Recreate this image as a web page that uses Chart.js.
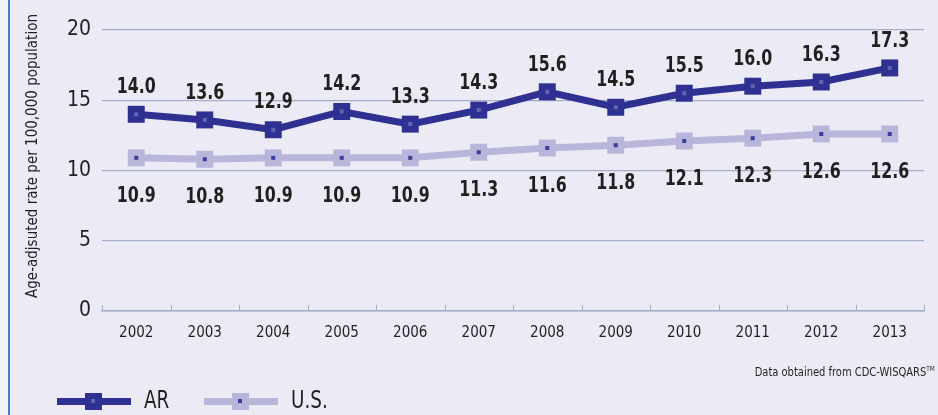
<!DOCTYPE html>
<html>
<head>
<meta charset="utf-8">
<script src="https://cdn.jsdelivr.net/npm/chart.js@4"></script>
<style>
  html, body { margin: 0; padding: 0; }
  body {
    width: 938px; height: 415px; overflow: hidden;
    background: #ECEBF5;
    font-family: 'DejaVu Sans Condensed', 'Liberation Sans Narrow', sans-serif;
    position: relative;
  }
  #edge { position: absolute; left: 0; top: 0; width: 8px; height: 415px; background: #F1F2FA; border-right: 2px solid #3F7CC4; }
  #wrap { position: absolute; left: 0; top: 0; width: 938px; height: 415px; }
  #note { position: absolute; right: 3px; top: 365px; font-size: 12px; color: #231F20; transform: scaleX(0.92); transform-origin: right center; white-space: nowrap; }
  #note sup { font-size: 7px; }
  .leg { position: absolute; top: 389px; height: 24px; }
  .leg .ln { position: absolute; left: 0; top: 9px; width: 74px; height: 7px; }
  .leg .mk { position: absolute; left: 28px; top: 4px; width: 17px; height: 17px; }
  .leg .dot { position: absolute; left: 6px; top: 6px; width: 4px; height: 4px; }
  .leg .tx { position: absolute; left: 87px; top: -3px; font-size: 24px; color: #231F20; white-space: nowrap; transform: scaleX(0.85); transform-origin: left center; }
</style>
</head>
<body>
<div id="edge"></div>
<div id="wrap"><canvas id="chart"></canvas></div>
<div id="note">Data obtained from CDC-WISQARS<sup>TM</sup></div>
<div class="leg" style="left:57px">
  <div class="ln" style="background:#2E3192"></div>
  <div class="mk" style="background:#2E3192"><div class="dot" style="background:#6266B0"></div></div>
  <div class="tx">AR</div>
</div>
<div class="leg" style="left:204px">
  <div class="ln" style="background:#B9B6DB"></div>
  <div class="mk" style="background:#B9B6DB"><div class="dot" style="background:#3A3E9C"></div></div>
  <div class="tx">U.S.</div>
</div>
<script>
const years = ['2002', '2003', '2004', '2005', '2006', '2007', '2008', '2009', '2010', '2011', '2012', '2013'];
const arRates = [14.0, 13.6, 12.9, 14.2, 13.3, 14.3, 15.6, 14.5, 15.5, 16.0, 16.3, 17.3];
const usRates = [10.9, 10.8, 10.9, 10.9, 10.9, 11.3, 11.6, 11.8, 12.1, 12.3, 12.6, 12.6];
const yTicks = [0, 5, 10, 15, 20];
const yTitle = 'Age-adjsuted rate per 100,000 population';

const FONT = "'DejaVu Sans Condensed', 'Liberation Sans Narrow', sans-serif";
const AR_COLOR = '#2E3192';
const US_COLOR = '#B9B6DB';
const GRID = '#A3AECB';

// inner dots, value labels, y title and the upward tick marks
const decorate = {
    id: 'decorate',
    afterDatasetsDraw(chart) {
        const ctx = chart.ctx;
        const dots = ['#6266B0', '#3A3E9C'];
        ctx.save();
        ctx.textAlign = 'center';
        ctx.textBaseline = 'middle';
        chart.data.datasets.forEach((ds, i) => {
            const meta = chart.getDatasetMeta(i);
            meta.data.forEach((pt, j) => {
                ctx.fillStyle = dots[i];
                ctx.fillRect(pt.x - 2, pt.y - 2, 4, 4);
                const off = i === 0 ? -27 : 38;
                ctx.save();
                ctx.translate(pt.x, pt.y + off);
                ctx.scale(0.8, 1);
                ctx.font = 'bold 22px ' + FONT;
                ctx.fillStyle = '#231F20';
                ctx.fillText(ds.data[j].toFixed(1), 0, 0);
                ctx.restore();
            });
        });

        // y axis title
        ctx.save();
        ctx.translate(33, 156);
        ctx.rotate(-Math.PI / 2);
        ctx.font = '15px ' + FONT;
        ctx.fillStyle = '#231F20';
        ctx.fillText(yTitle, 0, 0);
        ctx.restore();

        // tick marks pointing up from the x axis
        const xs = chart.scales.x;
        const bottom = chart.chartArea.bottom;
        ctx.strokeStyle = GRID;
        ctx.lineWidth = 1;
        for (let k = 0; k <= years.length; k++) {
            let px;
            if (k === 0) px = xs.left;
            else if (k === years.length) px = xs.right;
            else px = (xs.getPixelForValue(k - 1) + xs.getPixelForValue(k)) / 2;
            ctx.beginPath();
            ctx.moveTo(Math.round(px) + 0.5, bottom);
            ctx.lineTo(Math.round(px) + 0.5, bottom - 6);
            ctx.stroke();
        }
        ctx.restore();
    }
};

const ctx = document.getElementById('chart').getContext('2d');
new Chart(ctx, {
    type: 'line',
    data: {
        labels: years,
        datasets: [
            {
                label: 'AR',
                data: arRates,
                borderColor: AR_COLOR,
                backgroundColor: AR_COLOR,
                borderWidth: 7,
                pointStyle: 'rect',
                pointRadius: 12,
                pointBorderWidth: 0,
                tension: 0
            },
            {
                label: 'U.S.',
                data: usRates,
                borderColor: US_COLOR,
                backgroundColor: US_COLOR,
                borderWidth: 7,
                pointStyle: 'rect',
                pointRadius: 12,
                pointBorderWidth: 0,
                tension: 0
            }
        ]
    },
    options: {
        responsive: true,
        maintainAspectRatio: false,
        animation: false,
        layout: { padding: { left: 10, right: 14, top: 30, bottom: 74 } },
        plugins: {
            legend: { display: false },
            tooltip: { enabled: false }
        },
        scales: {
            x: {
                offset: true,
                grid: { display: false },
                border: { display: true, color: GRID, width: 1.5 },
                ticks: { color: '#231F20', font: { family: FONT, size: 15 }, padding: 5 },
                afterFit: (s) => { s.height = 30; }
            },
            y: {
                min: 0,
                max: 20,
                afterBuildTicks: (s) => { s.ticks = yTicks.map(v => ({ value: v })); },
                grid: { color: GRID, lineWidth: 1.2, drawTicks: false },
                border: { display: false },
                ticks: { color: '#231F20', font: { family: FONT, size: 21 }, padding: 11 },
                afterFit: (s) => { s.width = 92; }
            }
        }
    },
    plugins: [decorate]
});
</script>
</body>
</html>
